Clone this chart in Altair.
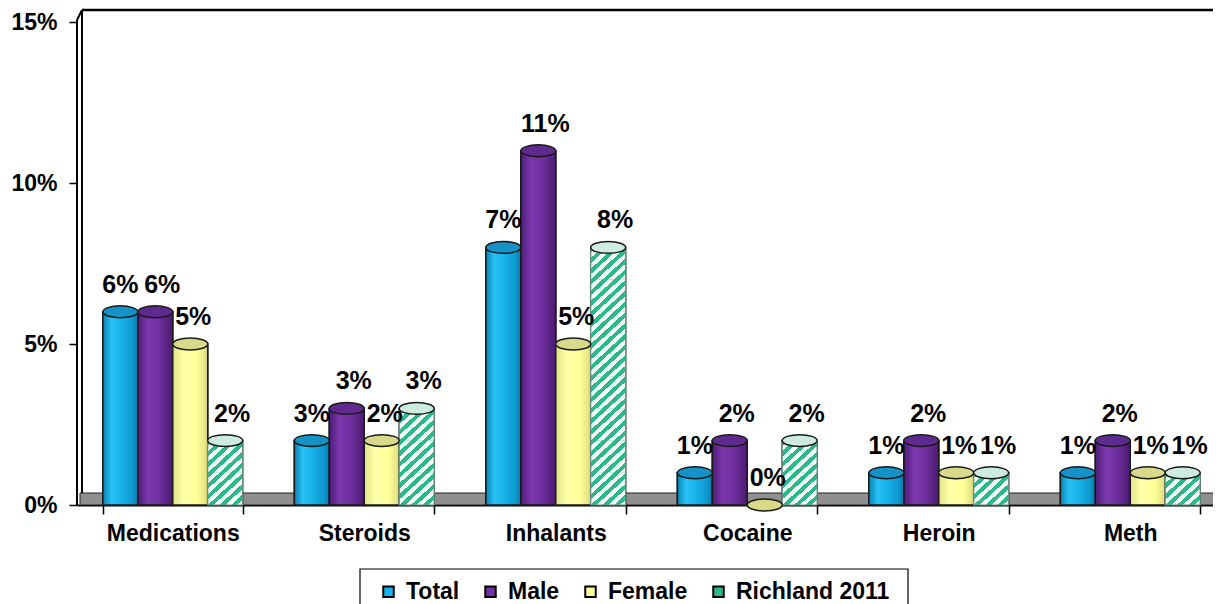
import altair as alt
import pandas as pd

categories = ["Medications", "Steroids", "Inhalants", "Cocaine", "Heroin", "Meth"]
series = ["Total", "Male", "Female", "Richland 2011"]

total = [6, 2, 8, 1, 1, 1]
male = [6, 3, 11, 2, 2, 2]
female = [5, 2, 5, 0, 1, 1]
richland = [2, 3, 8, 2, 1, 1]

total_labels = ["6%", "3%", "7%", "1%", "1%", "1%"]
male_labels = ["6%", "3%", "11%", "2%", "2%", "2%"]
female_labels = ["5%", "2%", "5%", "0%", "1%", "1%"]
richland_labels = ["2%", "3%", "8%", "2%", "1%", "1%"]

y_ticks = [0, 5, 10, 15]

colors = ["#17B2EA", "#7030A0", "#FFFF99", "#2CB98A"]
top_colors = ["#1592C6", "#5F2A8E", "#D9D98A", "#CDEBDF"]

FONT = "Liberation Sans"

rows = []
for s, vals, labs in zip(series, [total, male, female, richland],
                         [total_labels, male_labels, female_labels, richland_labels]):
    for c, v, l in zip(categories, vals, labs):
        rows.append({"cat": c, "series": s, "value": v, "label": l})
df = pd.DataFrame(rows)

seg_rows = []
for c, v in zip(categories, richland):
    k = 0
    while k < v:
        seg_rows.append({"cat": c, "series": "Richland 2011", "value": k, "hi": min(k + 1, v)})
        k += 1
seg = pd.DataFrame(seg_rows)

x_enc = alt.X("cat:N", sort=categories,
              scale=alt.Scale(range=[0, 1149], paddingInner=0.27, paddingOuter=0.135),
              axis=alt.Axis(title=None, labelAngle=0, domain=True, domainColor="#000",
                            domainWidth=2, ticks=True, tickBand="extent", tickSize=9,
                            tickColor="#000", tickWidth=1.5, labelPadding=8,
                            labelFont=FONT, labelFontSize=23, labelFontWeight="bold",
                            labelColor="#000", grid=False))
xo_enc = alt.XOffset("series:N", sort=series, scale=alt.Scale(paddingInner=0, paddingOuter=0))
y_scale = alt.Scale(domain=[0, 15], nice=False)
y_axis = alt.Axis(title=None, values=y_ticks, labelExpr="datum.value + '%'", domain=False,
                  ticks=True, tickSize=8, tickColor="#000", tickWidth=1.5, labelPadding=12,
                  labelFont=FONT, labelFontSize=23, labelFontWeight="bold",
                  labelColor="#000", grid=False)
y_enc = alt.Y("value:Q", scale=y_scale, axis=y_axis)

one = pd.DataFrame({"a": [0]})

floor = alt.Chart(one).mark_rect(color="#8f8f8f", stroke="#222", strokeWidth=1).encode(
    x=alt.value(3), x2=alt.value(1160), y=alt.value(471), y2=alt.value(483))
wall1 = alt.Chart(one).mark_rule(color="#000", strokeWidth=2).encode(
    x=alt.value(0), y=alt.value(-2), y2=alt.value(483))
wall2 = alt.Chart(one).mark_rule(color="#000", strokeWidth=2).encode(
    x=alt.value(5), y=alt.value(-12), y2=alt.value(471))
wall3 = alt.Chart(one).mark_rule(color="#000", strokeWidth=2).encode(
    x=alt.value(0), y=alt.value(-2), x2=alt.value(5), y2=alt.value(-12))
wall4 = alt.Chart(one).mark_rule(color="#000", strokeWidth=2.5).encode(
    x=alt.value(5), x2=alt.value(1160), y=alt.value(-12))
legend_box = alt.Chart(one).mark_rect(fill="#fff", stroke="#000", strokeWidth=1.2).encode(
    x=alt.value(283), x2=alt.value(831), y=alt.value(547), y2=alt.value(640))

base = alt.Chart(df).encode(x=x_enc, xOffset=xo_enc, y=y_enc)

main_bars = base.mark_bar(stroke="#1a1a1a", strokeWidth=1.5).encode(
    y2=alt.datum(0),
    color=alt.Color("series:N", sort=series, scale=alt.Scale(domain=series, range=colors),
                    legend=alt.Legend(title=None, orient="none", legendX=300, legendY=558,
                                      direction="horizontal", columns=4,
                                      symbolType="square", symbolSize=110,
                                      symbolStrokeColor="#000", symbolStrokeWidth=2,
                                      labelFont=FONT, labelFontSize=23,
                                      labelFontWeight="bold", labelColor="#000",
                                      labelOffset=6, columnPadding=19, padding=0)))


def grad(stops, x2=1, y2=0):
    return alt.LinearGradient(
        gradient="linear", x1=0, y1=0, x2=x2, y2=y2,
        stops=[alt.GradientStop(offset=o, color=c) for o, c in stops])


grads = {
    "Total": [(0, "#0A82B4"), (0.25, "#28C2F6"), (0.55, "#16B0E8"), (0.85, "#0E98CE"), (1, "#0A78A8")],
    "Male": [(0, "#4C1C76"), (0.3, "#7C38AE"), (0.6, "#7030A0"), (1, "#4A1A70")],
    "Female": [(0, "#E2E284"), (0.3, "#FFFFAA"), (0.7, "#FFFF99"), (1, "#DCDC7E")],
}

grad_layers = []
for s in ["Total", "Male", "Female"]:
    grad_layers.append(
        base.transform_filter(alt.datum.series == s)
        .mark_bar(fill=grad(grads[s]), stroke="#1a1a1a", strokeWidth=1.5)
        .encode(y2=alt.datum(0)))

green = "#2CB98A"
white = "#F3FAF7"
stripe_stops = []
n = 6
for i in range(n):
    b = i / n
    m = b + 0.5 / n
    e = (i + 1) / n
    stripe_stops += [(b, green), (m, green), (m, white), (e, white)]

segs = alt.Chart(seg).mark_bar(fill=grad(stripe_stops, x2=1, y2=1), strokeWidth=0).encode(
    x=x_enc, xOffset=xo_enc, y=y_enc, y2="hi:Q")

rich_outline = base.transform_filter(alt.datum.series == "Richland 2011").mark_bar(
    fillOpacity=0, stroke="#6f8f84", strokeWidth=1.2).encode(y2=alt.datum(0))

ELLIPSE = "M -1 0 A 1 0.34 0 1 0 1 0 A 1 0.34 0 1 0 -1 0 Z"
tops = base.mark_point(shape=ELLIPSE, size=1225, filled=True, opacity=1,
                       stroke="#1a1a1a", strokeWidth=1.5).encode(
    fill=alt.Fill("series:N", sort=series, scale=alt.Scale(domain=series, range=top_colors),
                  legend=None))

label_dx = {"Total": 0, "Male": 7, "Female": 3, "Richland 2011": 7}
label_layers = []
for s in series:
    label_layers.append(
        base.transform_filter(alt.datum.series == s)
        .mark_text(font=FONT, fontSize=25, fontWeight="bold", color="#000",
                   baseline="alphabetic", dy=-19, dx=label_dx[s])
        .encode(text="label:N"))

chart = alt.layer(floor, wall1, wall2, wall3, wall4, legend_box, main_bars, *grad_layers, segs,
                  rich_outline, tops, *label_layers).resolve_scale(fill="independent").properties(
    width=1136, height=483,
    autosize=alt.AutoSizeParams(type="none"),
    padding={"left": 69, "top": 14, "right": 0, "bottom": 99},
).configure_view(stroke=None)

chart.save("out.html", embed_options={"renderer": "svg", "actions": False})
